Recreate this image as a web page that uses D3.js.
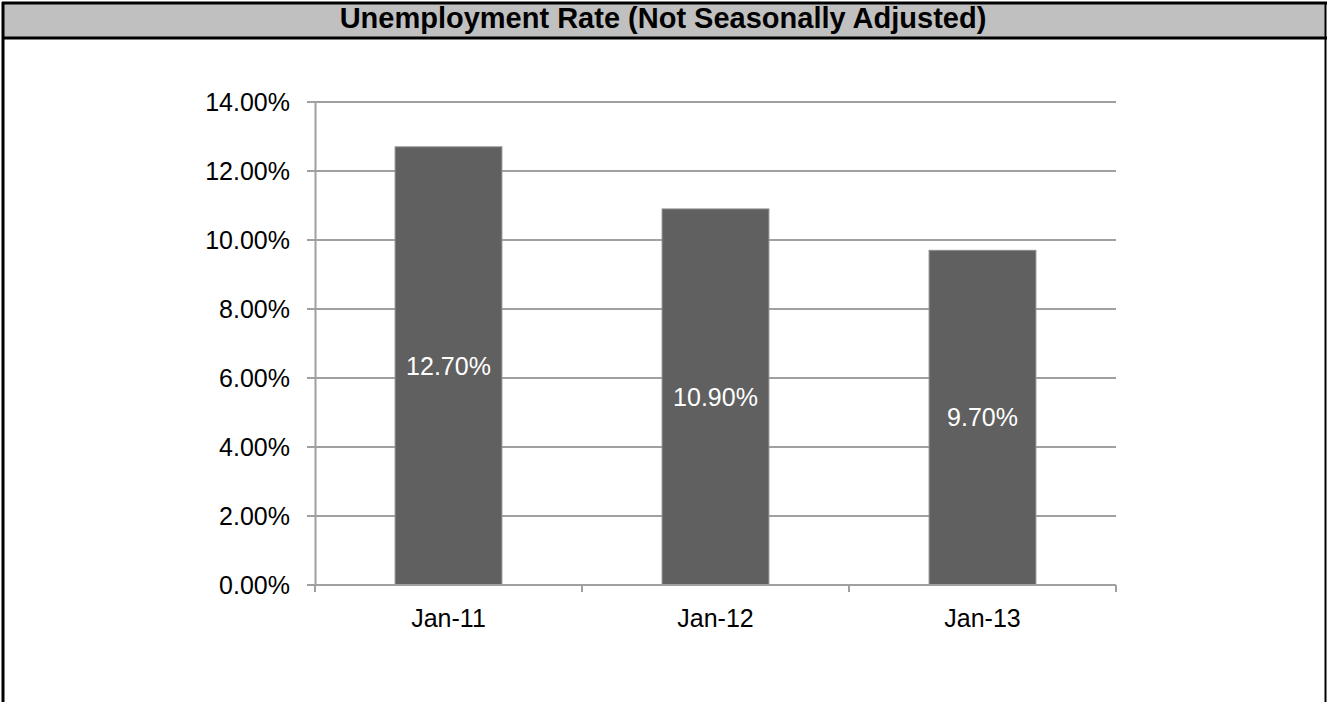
<!DOCTYPE html>
<html>
<head>
<meta charset="utf-8">
<script src="https://cdn.jsdelivr.net/npm/d3@7"></script>
<style>
  body { margin: 0; background: #fff; }
  svg { display: block; font-family: "Liberation Sans", Arial, sans-serif; }
</style>
</head>
<body>
<div id="chart"></div>
<script>
var title = "Unemployment Rate (Not Seasonally Adjusted)";
var categories = ["Jan-11", "Jan-12", "Jan-13"];
var rates = [12.7, 10.9, 9.7];
var yTicks = [0, 2, 4, 6, 8, 10, 12, 14];

var W = 1327, H = 702;
var margin = { top: 102, left: 315, right: 211, bottom: 117 };
var width = W - margin.left - margin.right;
var height = H - margin.top - margin.bottom;

var svg = d3.select("#chart").append("svg")
  .attr("width", W)
  .attr("height", H);

// frame + title band
svg.append("rect")
  .attr("x", 3).attr("y", 3)
  .attr("width", W - 4).attr("height", 35)
  .attr("fill", "#c0c0c0");
svg.append("line").attr("x1", 3).attr("x2", 3).attr("y1", 2).attr("y2", H)
  .attr("stroke", "#000").attr("stroke-width", 3);
svg.append("line").attr("x1", 2).attr("x2", W).attr("y1", 3).attr("y2", 3)
  .attr("stroke", "#000").attr("stroke-width", 3);
svg.append("line").attr("x1", 2).attr("x2", W).attr("y1", 38).attr("y2", 38)
  .attr("stroke", "#000").attr("stroke-width", 3);
svg.append("line").attr("x1", W - 1.5).attr("x2", W - 1.5).attr("y1", 2).attr("y2", H)
  .attr("stroke", "#000").attr("stroke-width", 2);

svg.append("text")
  .attr("x", 663).attr("y", 28)
  .attr("text-anchor", "middle")
  .style("font-weight", "bold")
  .style("font-size", "29px")
  .text(title);

var g = svg.append("g")
  .attr("transform", "translate(" + margin.left + "," + margin.top + ")");

var x = d3.scaleBand().domain(categories).range([0, width]).paddingInner(0.6).paddingOuter(0.3);
var xEdge = d3.scaleLinear().domain([0, categories.length]).range([0, width]);
var y = d3.scaleLinear().domain([0, 14]).range([height, 0]);

// gridlines
g.selectAll(".grid").data(yTicks).enter().append("line")
  .attr("class", "grid")
  .attr("x1", -8).attr("x2", width)
  .attr("y1", function(d) { return y(d); })
  .attr("y2", function(d) { return y(d); })
  .attr("stroke", "#a0a0a0").attr("stroke-width", 2);

// y axis
var yAxis = d3.axisLeft(y).tickValues(yTicks).tickSize(0).tickPadding(25)
  .tickFormat(function(d) { return d.toFixed(2) + "%"; });
var ya = g.append("g").call(yAxis);
ya.select(".domain").attr("stroke", "#a0a0a0").attr("stroke-width", 2);
ya.selectAll("text").style("font-size", "25px").attr("fill", "#000")
  .style("font-family", "Liberation Sans, Arial, sans-serif");

// bottom axis ticks at category boundaries
g.selectAll(".xtick").data(d3.range(categories.length + 1)).enter().append("line")
  .attr("class", "xtick")
  .attr("x1", function(d) { return xEdge(d); })
  .attr("x2", function(d) { return xEdge(d); })
  .attr("y1", height).attr("y2", height + 7)
  .attr("stroke", "#a0a0a0").attr("stroke-width", 2);

// bars
g.selectAll(".bar").data(rates).enter().append("rect")
  .attr("class", "bar")
  .attr("x", function(d, i) { return x(categories[i]); })
  .attr("y", function(d) { return y(d); })
  .attr("width", x.bandwidth())
  .attr("height", function(d) { return height - y(d); })
  .attr("fill", "#606060")
  .attr("stroke", "#8c8c8c").attr("stroke-width", 1);

g.append("line")
  .attr("x1", 0).attr("x2", width)
  .attr("y1", height).attr("y2", height)
  .attr("stroke", "#a0a0a0").attr("stroke-width", 2);

// bar labels
g.selectAll(".lbl").data(rates).enter().append("text")
  .attr("class", "lbl")
  .attr("x", function(d, i) { return x(categories[i]) + x.bandwidth() / 2; })
  .attr("y", function(d) { return (y(d) + height) / 2; })
  .attr("dy", "0.35em")
  .attr("text-anchor", "middle")
  .attr("fill", "#fff")
  .style("font-size", "25px")
  .text(function(d) { return d.toFixed(2) + "%"; });

// category labels
g.selectAll(".cat").data(categories).enter().append("text")
  .attr("class", "cat")
  .attr("x", function(d) { return x(d) + x.bandwidth() / 2; })
  .attr("y", height + 42)
  .attr("text-anchor", "middle")
  .style("font-size", "25px")
  .text(function(d) { return d; });
</script>
</body>
</html>
